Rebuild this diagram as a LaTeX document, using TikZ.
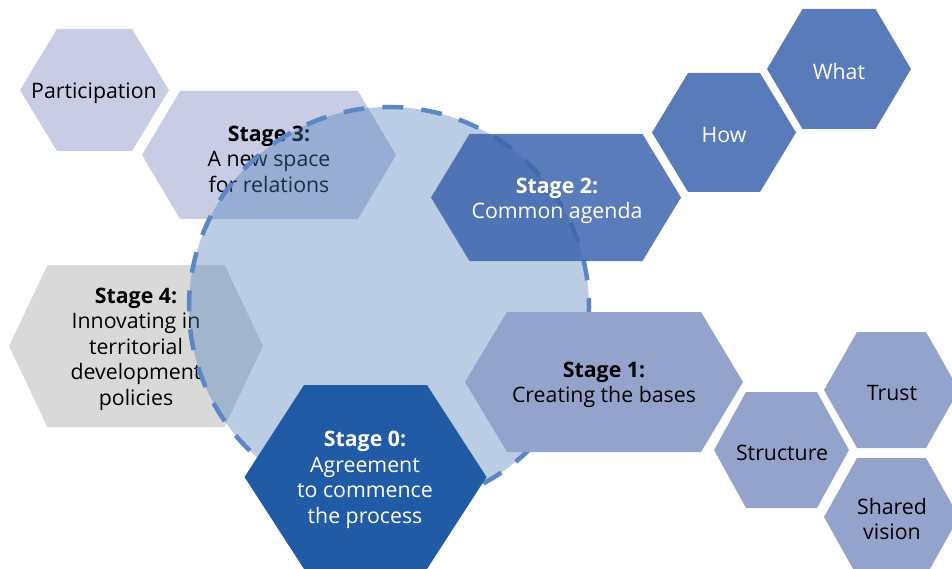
\documentclass[tikz,border=0pt]{standalone}
\usepackage{fontspec}
\setmainfont{Open Sans}
\definecolor{lav}{HTML}{C8CCE4}
\definecolor{grayhex}{HTML}{D9D9D9}
\definecolor{circ}{RGB}{74,124,184}
\definecolor{dashc}{HTML}{5B87C5}
\definecolor{stwo}{RGB}{61,101,174}
\definecolor{howc}{HTML}{5A7BBA}
\definecolor{sone}{HTML}{93A3CC}
\definecolor{szero}{HTML}{215BA6}
\newcommand\hexa[6]{%
  \fill[#6] ({#1-#3},{#2}) -- ({#1-#4},{#2-#5}) -- ({#1+#4},{#2-#5}) --
    ({#1+#3},{#2}) -- ({#1+#4},{#2+#5}) -- ({#1-#4},{#2+#5}) -- cycle;}
\tikzset{
  txt/.style={align=center, inner sep=0pt, font=\fontsize{21.3}{25.5}\selectfont},
  dark/.style={txt, text=black},
  light/.style={txt, text=white},
}
\begin{document}
\begin{tikzpicture}[x=1pt,y=-1pt]
\useasboundingbox (0,0) rectangle (952,569);
% back layer
\hexa{94.5}{90}{74.5}{37.5}{61}{lav}
\hexa{269}{155}{127}{89}{64}{lav}
\hexa{136}{346}{127}{88.5}{81}{grayhex}
\node[dark] (part) at (94,93) {Participation};
\node[dark] (s3) at (269,159) {\textbf{Stage 3:}\\A new space\\for relations};
\node[dark] (s4) at (136,349) {\textbf{Stage 4:}\\Innovating in\\territorial\\development\\policies};
% circle
\fill[circ, fill opacity=0.38] (389,307) circle[radius=200];
\draw[dashc, line width=4.5pt, dash pattern=on 21pt off 18pt] (389,307) circle[radius=200];
\coordinate (cc) at (389,307);
% stage 2 group
\hexa{556}{197.5}{125}{86.5}{63.5}{stwo, fill opacity=0.85}
\hexa{724}{132.5}{72}{36}{59.5}{howc}
\hexa{839}{69}{72}{36.5}{60}{howc}
\node[light] (s2) at (557,201) {\textbf{Stage 2:}\\Common agenda};
\node[light] (how) at (724,135) {How};
\node[light] (what) at (839,72) {What};
% stage 1 group
\hexa{604}{382}{139}{97}{70}{sone}
\hexa{781.5}{450}{67.5}{35.5}{58}{sone}
\hexa{891.5}{390}{67.5}{34.5}{58}{sone}
\hexa{891.5}{517}{67.5}{34.5}{59}{sone}
\node[dark] (s1) at (604,385) {\textbf{Stage 1:}\\Creating the bases};
\node[dark] (struct) at (782,453) {Structure};
\node[dark] (trust) at (892,393) {Trust};
\node[dark] (shared) at (892,519) {Shared\\vision};
% stage 0
\hexa{365.5}{477}{121}{61.5}{92}{szero}
\node[light] (s0) at (365,480) {\textbf{Stage 0:}\\Agreement\\to commence\\the process};
\end{tikzpicture}
\end{document}
